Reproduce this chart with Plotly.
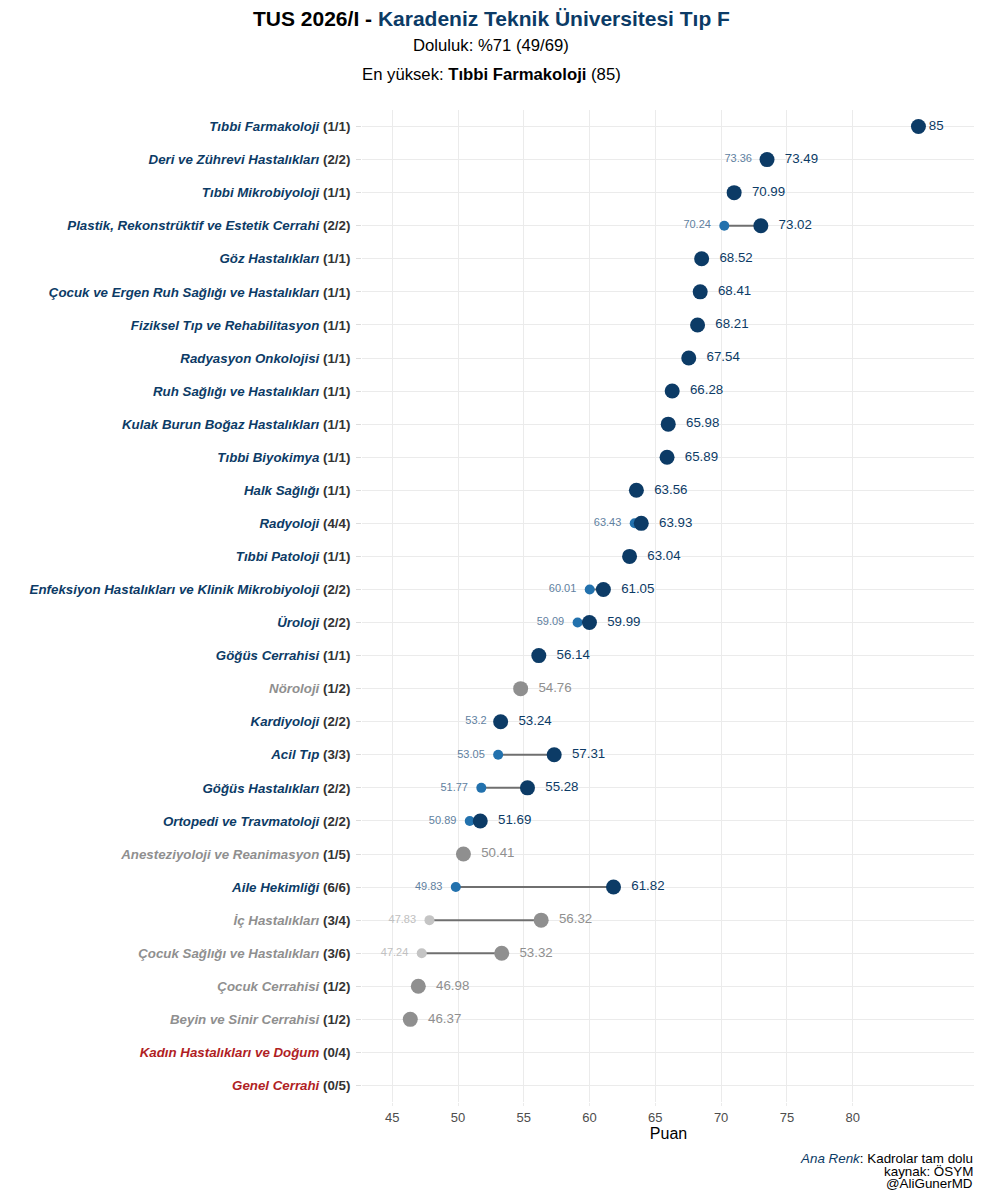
import plotly.graph_objects as go

categories = [
    "Tıbbi Farmakoloji", "Deri ve Zührevi Hastalıkları", "Tıbbi Mikrobiyoloji",
    "Plastik, Rekonstrüktif ve Estetik Cerrahi", "Göz Hastalıkları",
    "Çocuk ve Ergen Ruh Sağlığı ve Hastalıkları", "Fiziksel Tıp ve Rehabilitasyon",
    "Radyasyon Onkolojisi", "Ruh Sağlığı ve Hastalıkları", "Kulak Burun Boğaz Hastalıkları",
    "Tıbbi Biyokimya", "Halk Sağlığı", "Radyoloji", "Tıbbi Patoloji",
    "Enfeksiyon Hastalıkları ve Klinik Mikrobiyoloji", "Üroloji", "Göğüs Cerrahisi",
    "Nöroloji", "Kardiyoloji", "Acil Tıp", "Göğüs Hastalıkları", "Ortopedi ve Travmatoloji",
    "Anesteziyoloji ve Reanimasyon", "Aile Hekimliği", "İç Hastalıkları",
    "Çocuk Sağlığı ve Hastalıkları", "Çocuk Cerrahisi", "Beyin ve Sinir Cerrahisi",
    "Kadın Hastalıkları ve Doğum", "Genel Cerrahi",
]
filled = [1, 2, 1, 2, 1, 1, 1, 1, 1, 1, 1, 1, 4, 1, 2, 2, 1, 1, 2, 3, 2, 2, 1, 6, 3, 3, 1, 1, 0, 0]
quota = [1, 2, 1, 2, 1, 1, 1, 1, 1, 1, 1, 1, 4, 1, 2, 2, 1, 2, 2, 3, 2, 2, 5, 6, 4, 6, 2, 2, 4, 5]
max_score = [85, 73.49, 70.99, 73.02, 68.52, 68.41, 68.21, 67.54, 66.28, 65.98, 65.89, 63.56,
             63.93, 63.04, 61.05, 59.99, 56.14, 54.76, 53.24, 57.31, 55.28, 51.69, 50.41,
             61.82, 56.32, 53.32, 46.98, 46.37, None, None]
min_score = [None, 73.36, None, 70.24, None, None, None, None, None, None, None, None,
             63.43, None, 60.01, 59.09, None, None, 53.2, 53.05, 51.77, 50.89, None,
             49.83, 47.83, 47.24, None, None, None, None]
x_ticks = [45, 50, 55, 60, 65, 70, 75, 80]

BLUE = "#0c3b66"
BLUE_LIGHT = "#2271ad"
GRAY = "#8f8f8f"
GRAY_LIGHT = "#c4c4c4"
RED = "#b01e24"
FONT = "Liberation Sans, Arial, sans-serif"


def status(i):
    if filled[i] == 0:
        return "empty"
    return "full" if filled[i] == quota[i] else "partial"


name_color = {"full": BLUE, "partial": GRAY, "empty": RED}
ticktext = [
    f"<b><i><span style='color:{name_color[status(i)]}'>{c}</span></i></b>"
    f"<b><span style='color:#333333'> ({filled[i]}/{quota[i]})</span></b>"
    for i, c in enumerate(categories)
]

fig = go.Figure()

# segments
seg_x, seg_y = [], []
for i, c in enumerate(categories):
    if min_score[i] is not None and max_score[i] is not None:
        seg_x += [min_score[i], max_score[i], None]
        seg_y += [c, c, None]
fig.add_trace(go.Scatter(x=seg_x, y=seg_y, mode="lines",
                         line=dict(color="#6f6f6f", width=2), hoverinfo="skip",
                         showlegend=False))

# min points
mi = [i for i in range(len(categories)) if min_score[i] is not None]
fig.add_trace(go.Scatter(
    x=[min_score[i] for i in mi], y=[categories[i] for i in mi],
    mode="markers+text",
    marker=dict(size=10, color=[BLUE_LIGHT if status(i) == "full" else GRAY_LIGHT for i in mi]),
    text=[f"{min_score[i]:g}  " for i in mi], textposition="middle left",
    textfont=dict(size=11, family=FONT,
                  color=["#5f7f9f" if status(i) == "full" else "#c0c0c0" for i in mi]),
    showlegend=False, hoverinfo="skip"))

# max points
ma = [i for i in range(len(categories)) if max_score[i] is not None]
top = max(v for v in max_score if v is not None)
fig.add_trace(go.Scatter(
    x=[max_score[i] for i in ma], y=[categories[i] for i in ma],
    mode="markers+text",
    marker=dict(size=15, color=[BLUE if status(i) == "full" else GRAY for i in ma]),
    text=[(f"{max_score[i]:g}" if max_score[i] == top else f"  {max_score[i]:g}") for i in ma],
    textposition="middle right",
    textfont=dict(size=13.3, family=FONT,
                  color=[BLUE if status(i) == "full" else GRAY for i in ma]),
    showlegend=False, hoverinfo="skip"))

# page has an 8px body margin; figure sized so the plot lands where the reference has it
fig.update_layout(
    width=970, height=1184,
    margin=dict(l=354, r=3, t=102, b=90),
    paper_bgcolor="white", plot_bgcolor="white",
    font=dict(family=FONT, color="#000000"),
    xaxis=dict(range=[42.7, 89.3], tickmode="array", tickvals=x_ticks,
               ticktext=[str(t) for t in x_ticks],
               showgrid=True, gridcolor="#ebebeb", gridwidth=1, zeroline=False,
               ticks="outside", ticklen=3, tickcolor="#ebebeb",
               tickfont=dict(size=13, color="#4d4d4d"),
               title=dict(text="Puan", font=dict(size=16, color="#000000"), standoff=4),
               showline=False),
    yaxis=dict(type="category", categoryorder="array", categoryarray=categories,
               range=[len(categories) - 0.5, -0.5],
               tickmode="array", tickvals=categories, ticktext=ticktext,
               showgrid=True, gridcolor="#ebebeb", gridwidth=1, zeroline=False,
               ticks="outside", ticklen=5, tickcolor="#dcdcdc", ticklabelstandoff=3,
               tickfont=dict(size=13.3, family=FONT), showline=False),
)


def py(pix):
    return (1102 - pix) / 992


def px(pix):
    return (pix - 362) / 613


fig.add_annotation(
    text="<b>TUS 2026/I - <span style='color:#0c3b66'>Karadeniz Teknik Üniversitesi Tıp F</span></b>",
    xref="paper", yref="paper", x=px(491), y=py(19), xanchor="center", yanchor="middle",
    showarrow=False, font=dict(size=21, color="#000000", family=FONT))
fig.add_annotation(
    text="Doluluk: %71 (49/69)",
    xref="paper", yref="paper", x=px(491), y=py(45), xanchor="center", yanchor="middle",
    showarrow=False, font=dict(size=16.7, color="#000000", family=FONT))
fig.add_annotation(
    text="En yüksek: <b>Tıbbi Farmakoloji</b> (85)",
    xref="paper", yref="paper", x=px(491), y=py(75), xanchor="center", yanchor="middle",
    showarrow=False, font=dict(size=16.7, color="#000000", family=FONT))

captions = [
    ("<i><span style='color:#0c3b66'>Ana Renk</span></i>: Kadrolar tam dolu", 1158),
    ("kaynak: ÖSYM", 1171),
    ("@AliGunerMD", 1183),
]
for txt, ypix in captions:
    fig.add_annotation(text=txt, xref="paper", yref="paper", x=px(975), y=py(ypix),
                       xanchor="right", yanchor="middle", showarrow=False,
                       font=dict(size=13.4, color="#000000", family=FONT))

fig.write_html("out.html")
